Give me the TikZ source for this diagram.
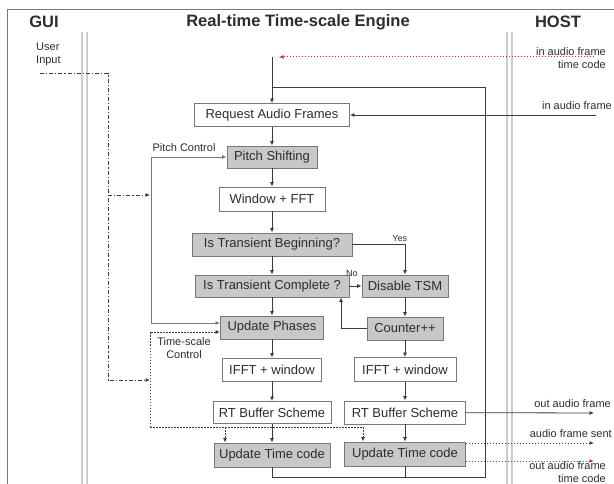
\documentclass[tikz,border=0pt]{standalone}
\usepackage{fontspec}
\setmainfont{Liberation Sans}
\usetikzlibrary{arrows.meta}
\definecolor{linegray}{RGB}{60,60,60}
\definecolor{boxgray}{RGB}{120,120,120}
\definecolor{shgray}{RGB}{200,200,200}
\definecolor{txtgray}{RGB}{45,45,45}
\definecolor{sepgray}{RGB}{205,205,205}
\definecolor{tcred}{RGB}{225,40,40}

\begin{document}
\begin{tikzpicture}[x=1pt,y=-1pt,
    box/.style={draw=boxgray,line width=0.9pt,fill=white,text=txtgray,
      font=\fontsize{13}{15}\selectfont,inner sep=0pt,minimum height=23pt},
    shbox/.style={box,fill=shgray},
    arr/.style={-{Latex[length=4.5pt,width=4pt]},draw=linegray,line width=0.8pt},
    gline/.style={arr,draw=boxgray},
    dotarr/.style={arr,line width=1pt,dash pattern=on 1.5pt off 1.5pt},
    redarr/.style={dotarr,draw=tcred,-{Latex[length=4.5pt,width=4pt,fill=tcred]}},
    ddarr/.style={arr,dash pattern=on 4pt off 2pt on 1.2pt off 2pt},
    lbl/.style={text=txtgray,font=\fontsize{11}{13}\selectfont,inner sep=0pt},
    head/.style={text=txtgray,font=\fontsize{16.5}{18}\selectfont\bfseries,inner sep=0pt}]
      \useasboundingbox (0,0) rectangle (614,484);
      % \draw[help lines] (0,0) grid[step=50] (614,484);

      \draw[boxgray,line width=0.8pt] (7,484) -- (7,9) -- (614,9);
      \draw[sepgray,line width=1.2pt] (82,32) -- (82,484) (87,32) -- (87,484);
      \draw[sepgray,line width=1.2pt] (507,32) -- (507,484) (512,32) -- (512,484);

      \draw (44,22) node[head] (gui) {GUI};
      \draw (298,22) node[head] (engine) {Real-time Time-scale Engine};
      \draw (558,22) node[head] (host) {HOST};

      % engine, left column
      \draw (272,115) node[box,minimum width=155pt] (req) {Request Audio Frames};
      \draw (272,157) node[shbox,minimum width=90pt,minimum height=22pt] (pitch) {Pitch Shifting};
      \draw (272,199) node[box,minimum width=106pt,minimum height=24pt] (fft) {Window + FFT};
      \draw (272,244.5) node[shbox,minimum width=160pt] (tbegin) {Is Transient Beginning?};
      \draw (272,286) node[shbox,minimum width=154pt,minimum height=22pt] (tcompl) {Is Transient Complete ?};
      \draw (272,327.5) node[shbox,minimum width=103pt] (phases) {Update Phases};
      \draw (272,369.5) node[box,minimum width=99pt] (ifftL) {IFFT + window};
      \draw (272,412.5) node[box,minimum width=118pt,minimum height=22pt] (rtL) {RT Buffer Scheme};
      \draw (272,455) node[shbox,minimum width=116pt,minimum height=24pt] (tcL) {Update Time code};

      % engine, right column
      \draw (405,286) node[shbox,minimum width=86pt,minimum height=22pt] (disable) {Disable TSM};
      \draw (405,328.5) node[shbox,minimum width=76pt] (counter) {Counter++};
      \draw (405,369.5) node[box,minimum width=102pt,minimum height=24pt] (ifftR) {IFFT + window};
      \draw (405,412.5) node[box,minimum width=121pt] (rtR) {RT Buffer Scheme};
      \draw (405,454) node[shbox,minimum width=121pt,minimum height=24pt] (tcR) {Update Time code};

      \coordinate (in) at (272,57);
      \coordinate (tcin) at (594,57);
      \coordinate (tcend) at (279,57);
      \coordinate (afin) at (596,115);
      \coordinate (lbr) at (485,477);
      \coordinate (ltr) at (485,87);
      \coordinate (cb) at (341,0);

      \draw[arr] (in) -- (req);
      \draw[redarr] (tcin) -- (tcend);
      \draw[arr] (afin) -- (req);
      \draw[arr,-] (tcL) |- (lbr) -- (ltr) -- (ltr -| in);
      \draw[arr,-] (tcR) -- (tcR |- lbr);

      \draw[arr] (req) -- (pitch);
      \draw[arr] (pitch) -- (fft);
      \draw[arr] (fft) -- (tbegin);
      \draw[arr] (tbegin) -- (tcompl);
      \draw[arr] (tcompl) -- (phases);
      \draw[arr] (phases) -- (ifftL);
      \draw[arr] (ifftL) -- (rtL);
      \draw[arr] (rtL) -- (tcL);

      \draw[arr] (tbegin) -| (disable) node[lbl,pos=0.45,above=3pt,font=\fontsize{9}{11}\selectfont] {Yes};
      \draw[arr] (tcompl) -- (disable) node[lbl,pos=0.2,above=9pt,font=\fontsize{9}{11}\selectfont] {No};
      \draw[arr] (disable) -- (counter);
      \draw[arr] (counter) -| (cb |- tcompl.south);
      \draw[arr] (counter) -- (ifftR);
      \draw[arr] (ifftR) -- (rtR);
      \draw[arr] (rtR) -- (tcR);

      % GUI side
      \draw (36,54) node[lbl,anchor=west,align=left] (user) {User\\Input};
      \coordinate (ui) at (40,73);
      \coordinate (uic) at (108,73);
      \coordinate (uid) at (108,380);
      \coordinate (pcin) at (150,195);
      \coordinate (tsin) at (150,380);
      \draw[ddarr] (ui) -- (uic) -- (uid) -- (tsin);
      \draw[ddarr] (uic |- pcin) -- (pcin);

      \coordinate (pcl) at (151,157);
      \draw (184,148) node[lbl] (pclbl) {Pitch Control};
      \draw[gline] (pcl) -- (pitch);
      \draw[gline] (pcl) |- ([yshift=4.5pt]phases.west);

      \coordinate (tsc) at (150,332);
      \coordinate (tsb) at (150,427);
      \coordinate (tsl) at (225,427);
      \coordinate (tsr) at (363,427);
      \draw (184,348) node[lbl,align=center] (tslbl) {Time-scale\\Control};
      \draw[dotarr] (tsb) -- (tsc) -- ([yshift=-4.5pt]phases.west);
      \draw[dotarr,-] (tsb) -- (tsr);
      \draw[dotarr] (tsl) -- (tsl |- tcL.north);
      \draw[dotarr] (tsr) -- (tsr |- tcR.north);

      % HOST side
      \draw (606,58) node[lbl,anchor=east,align=right] (tclbl) {in audio frame\\time code};
      \draw (612,106) node[lbl,anchor=east] (aflbl) {in audio frame};
      \coordinate (oaf) at (594,413);
      \coordinate (afs) at (594,443);
      \coordinate (otc) at (594,461);
      \draw[arr] (rtR) -- (oaf);
      \draw[dotarr] (tcR.east |- afs) -- (afs);
      \draw[redarr] (tcR.east |- otc) -- (otc);
      \draw (611,404) node[lbl,anchor=east] (oaflbl) {out audio frame};
      \draw (612,434) node[lbl,anchor=east] (afslbl) {audio frame sent};
      \draw (606,472) node[lbl,anchor=east,align=right] (otclbl) {out audio frame\\time code};
    \end{tikzpicture}
\end{document}
